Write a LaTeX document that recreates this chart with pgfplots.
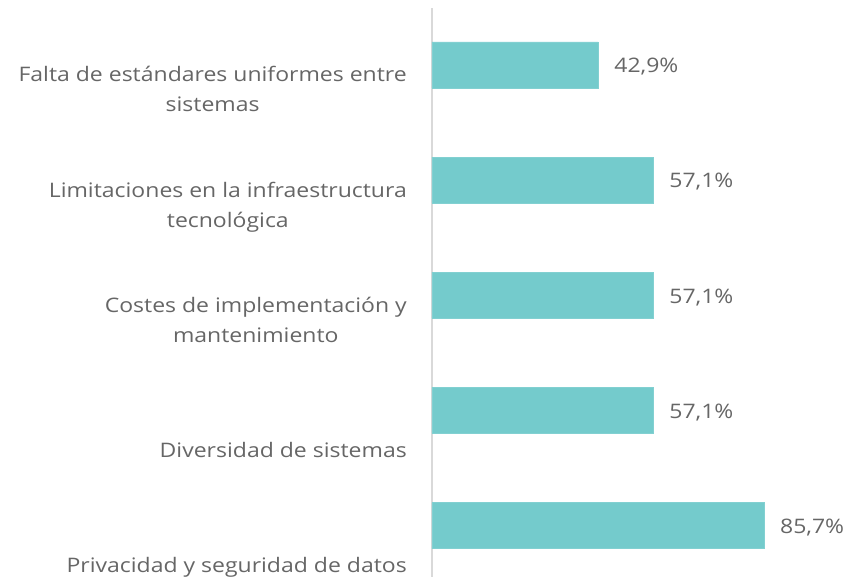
\documentclass[border=0pt]{standalone}
\usepackage{pgfplots}
\pgfplotsset{compat=1.18}
\usepackage{fontspec}
\setmainfont{Open Sans}[FakeStretch=1.15]
\definecolor{barteal}{HTML}{74CBCC}
\definecolor{txtgray}{HTML}{666666}
\definecolor{axgray}{HTML}{D9D9D9}

\newcommand{\lbl}[1]{\begin{tabular}[b]{@{}c@{}}#1\end{tabular}}

\begin{document}
\begin{tikzpicture}
\begin{axis}[
    scale only axis,
    width=428pt, height=569pt,
    xbar, bar width=46pt,
    xmin=0, xmax=110.5,
    ymin=-0.447, ymax=4.494,
    axis x line=none,
    axis y line*=left,
    y axis line style={draw=axgray, line width=1.6pt, -},
    ytick=\empty,
    clip=false,
    /pgf/number format/assume math mode=true,
    nodes near coords={\pgfmathprintnumber[fixed, fixed zerofill, precision=1, use comma]{\pgfplotspointmeta}\%},
    nodes near coords style={anchor=west, inner sep=0pt, xshift=16pt, yshift=-2pt, text=txtgray, font=\fontsize{20}{24}\selectfont},
]
\addplot[fill=barteal, draw=barteal!90!white] coordinates {
    (42.9,4)
    (57.1,3)
    (57.1,2)
    (57.1,1)
    (85.7,0)
};
\begin{scope}[every node/.style={anchor=base east, inner sep=0pt, text=txtgray, font=\fontsize{20}{30}\selectfont, xshift=-25pt, yshift=-47pt}]
\node at (axis cs:0,4) {\lbl{Falta de estándares uniformes entre\\ sistemas}};
\node at (axis cs:0,3) {\lbl{Limitaciones en la infraestructura\\ tecnológica}};
\node at (axis cs:0,2) {\lbl{Costes de implementación y\\ mantenimiento}};
\node at (axis cs:0,1) {\lbl{Diversidad de sistemas}};
\node at (axis cs:0,0) {\lbl{Privacidad y seguridad de datos}};
\end{scope}
\end{axis}
\pgfresetboundingbox
\path[use as bounding box] (-432pt,0) rectangle (428pt,577pt);
\end{tikzpicture}
\end{document}
